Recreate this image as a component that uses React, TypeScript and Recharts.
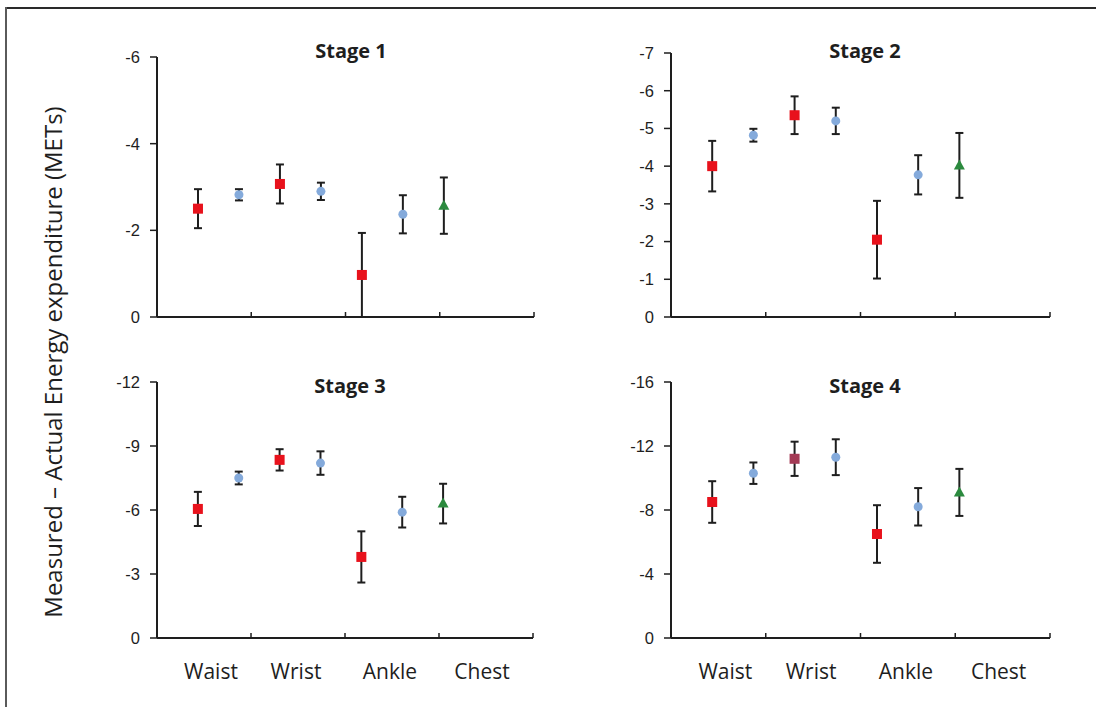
import React from 'react';
import { ScatterChart, Scatter, XAxis, YAxis, ErrorBar } from 'recharts';

const categories = ['Waist', 'Wrist', 'Ankle', 'Chest'];
const stageTitles = ['Stage 1', 'Stage 2', 'Stage 3', 'Stage 4'];
const yLabel = 'Measured \u2013 Actual Energy expenditure (METs)';

// red squares and blue circles: Waist, Wrist, Ankle; green triangle: Chest
const stage1Red = [-2.5, -3.07, -0.97];
const stage1RedErr = [0.45, 0.45, 0.97];
const stage1Blue = [-2.82, -2.9, -2.37];
const stage1BlueErr = [0.13, 0.2, 0.44];
const stage1Green = [-2.57];
const stage1GreenErr = [0.65];
const stage1Ticks = [-6, -4, -2, 0];

const stage2Red = [-4.0, -5.35, -2.05];
const stage2RedErr = [0.67, 0.5, 1.03];
const stage2Blue = [-4.82, -5.2, -3.77];
const stage2BlueErr = [0.17, 0.35, 0.52];
const stage2Green = [-4.02];
const stage2GreenErr = [0.86];
const stage2Ticks = [-7, -6, -5, -4, -3, -2, -1, 0];

const stage3Red = [-6.05, -8.35, -3.8];
const stage3RedErr = [0.8, 0.5, 1.2];
const stage3Blue = [-7.5, -8.2, -5.9];
const stage3BlueErr = [0.3, 0.55, 0.72];
const stage3Green = [-6.3];
const stage3GreenErr = [0.93];
const stage3Ticks = [-12, -9, -6, -3, 0];

const stage4Red = [-8.5, -11.2, -6.5];
const stage4RedErr = [1.3, 1.07, 1.8];
const stage4Blue = [-10.3, -11.3, -8.2];
const stage4BlueErr = [0.67, 1.12, 1.17];
const stage4Green = [-9.1];
const stage4GreenErr = [1.47];
const stage4Ticks = [-16, -12, -8, -4, 0];

const RED = '#e8121c';
const BLUE = '#84aadb';
const GREEN = '#2b8a3e';
const INK = '#1e1e1e';

const X_MAX = categories.length * 2.3;
// tick at each category boundary and each category centre
const xTicks = Array.from({ length: categories.length * 2 + 1 }, (_, i) => i * 1.15);
// Excel nudged the labels a little off the centres
const labelShift = [7, -2, -2, -4];

const series = (vals: number[], errs: number[], start: number) =>
  vals.map((y, i) => ({ x: start + i * 2, y, err: errs[i] }));

const squareShape = (fill: string) => (p: any) => {
  const c = p.payload && p.payload.fill ? p.payload.fill : fill;
  return <rect x={p.cx - 5} y={p.cy - 5} width={10} height={10} fill={c} />;
};
const circleShape = (p: any) => <circle cx={p.cx} cy={p.cy} r={4.5} fill={BLUE} />;
const triangleShape = (p: any) => (
  <polygon
    points={`${p.cx},${p.cy - 6} ${p.cx + 5.5},${p.cy + 4} ${p.cx - 5.5},${p.cy + 4}`}
    fill={GREEN}
  />
);

const makeXTick = (showLabels: boolean) => (props: any) => {
  const { x, y, index } = props;
  if (index % 2 === 0) {
    return <line x1={x} x2={x} y1={y} y2={y - 5} stroke={INK} strokeWidth={1.5} />;
  }
  if (!showLabels) return <g />;
  const k = (index - 1) / 2;
  return (
    <text
      x={x + labelShift[k]}
      y={y + 41}
      textAnchor="middle"
      fill={INK}
      fontSize={21}
      fontFamily="'Open Sans', sans-serif"
    >
      {categories[k]}
    </text>
  );
};

interface PanelProps {
  left: number;
  top: number;
  height: number;
  marginTop: number;
  marginRight: number;
  bottom: number;
  showLabels: boolean;
  red: number[];
  redErr: number[];
  blue: number[];
  blueErr: number[];
  green: number[];
  greenErr: number[];
  ticks: number[];
  oddSquare?: number;
}

const Panel: React.FC<PanelProps> = (p) => {
  const redData = series(p.red, p.redErr, 1).map((d, i) =>
    i === p.oddSquare ? { ...d, fill: '#a33a55' } : d
  );
  const blueData = series(p.blue, p.blueErr, 2);
  const greenData = series(p.green, p.greenErr, 7);
  const yMin = p.ticks[0];
  return (
    <div style={{ position: 'absolute', left: p.left, top: p.top }}>
      <ScatterChart
        width={470}
        height={p.height}
        margin={{ top: p.marginTop, right: p.marginRight, left: 0, bottom: p.bottom }}
      >
        <XAxis
          type="number"
          dataKey="x"
          domain={[0, X_MAX]}
          ticks={xTicks}
          interval={0}
          height={30}
          tickSize={0}
          tickMargin={0}
          tickLine={false}
          axisLine={{ stroke: INK, strokeWidth: 2 }}
          tick={makeXTick(p.showLabels)}
          allowDataOverflow
        />
        <YAxis
          type="number"
          dataKey="y"
          domain={[yMin, 0]}
          ticks={p.ticks}
          interval={0}
          reversed
          width={77}
          tickSize={7}
          tickMargin={10}
          axisLine={{ stroke: INK, strokeWidth: 2 }}
          tickLine={{ stroke: INK, strokeWidth: 1.5 }}
          tick={{ fill: INK, fontSize: 16.5, fontFamily: "'Liberation Sans', Arial, sans-serif" }}
          allowDataOverflow
        />
        <Scatter data={redData} shape={squareShape(RED)} isAnimationActive={false}>
          <ErrorBar dataKey="err" direction="y" width={4} strokeWidth={2} stroke={INK} isAnimationActive={false} />
        </Scatter>
        <Scatter data={blueData} shape={circleShape} isAnimationActive={false}>
          <ErrorBar dataKey="err" direction="y" width={4} strokeWidth={2} stroke={INK} isAnimationActive={false} />
        </Scatter>
        <Scatter data={greenData} shape={triangleShape} isAnimationActive={false}>
          <ErrorBar dataKey="err" direction="y" width={4} strokeWidth={2} stroke={INK} isAnimationActive={false} />
        </Scatter>
      </ScatterChart>
    </div>
  );
};

const titleStyle = (cx: number, top: number): React.CSSProperties => ({
  position: 'absolute',
  left: cx,
  top,
  transform: 'translateX(-50%)',
  fontFamily: "'Open Sans', sans-serif",
  fontWeight: 700,
  fontSize: 20,
  lineHeight: '20px',
  color: INK,
  whiteSpace: 'nowrap',
});

export default function App() {
  return (
    <div
      style={{
        position: 'absolute',
        left: 0,
        top: 0,
        width: 1096,
        height: 707,
        background: '#fff',
        overflow: 'hidden',
      }}
    >
      <div
        style={{
          position: 'absolute',
          left: 53,
          top: 362,
          transform: 'translate(-50%, -50%) rotate(-90deg)',
          fontFamily: "'Open Sans', sans-serif",
          fontSize: 24,
          lineHeight: '24px',
          color: INK,
          whiteSpace: 'nowrap',
        }}
      >
        {yLabel}
      </div>

      <Panel left={80} top={30} height={320} marginTop={27} marginRight={16} bottom={3} showLabels={false}
        red={stage1Red} redErr={stage1RedErr} blue={stage1Blue} blueErr={stage1BlueErr}
        green={stage1Green} greenErr={stage1GreenErr} ticks={stage1Ticks} />
      <Panel left={594} top={30} height={320} marginTop={23} marginRight={14} bottom={3} showLabels={false}
        red={stage2Red} redErr={stage2RedErr} blue={stage2Blue} blueErr={stage2BlueErr}
        green={stage2Green} greenErr={stage2GreenErr} ticks={stage2Ticks} />
      <Panel left={80} top={350} height={340} marginTop={32} marginRight={17} bottom={22} showLabels
        red={stage3Red} redErr={stage3RedErr} blue={stage3Blue} blueErr={stage3BlueErr}
        green={stage3Green} greenErr={stage3GreenErr} ticks={stage3Ticks} />
      <Panel left={594} top={350} height={340} marginTop={32} marginRight={14} bottom={22} showLabels
        red={stage4Red} redErr={stage4RedErr} blue={stage4Blue} blueErr={stage4BlueErr}
        green={stage4Green} greenErr={stage4GreenErr} ticks={stage4Ticks} oddSquare={1} />

      <div style={titleStyle(351, 41)}>{stageTitles[0]}</div>
      <div style={titleStyle(865, 41)}>{stageTitles[1]}</div>
      <div style={titleStyle(350, 376)}>{stageTitles[2]}</div>
      <div style={titleStyle(865, 376)}>{stageTitles[3]}</div>

      <svg
        width={1096}
        height={707}
        style={{ position: 'absolute', left: 0, top: 0, pointerEvents: 'none' }}
      >
        <line x1={5} y1={8} x2={1096} y2={8} stroke="#2a2a2a" strokeWidth={2} />
        <line x1={6} y1={7} x2={6} y2={707} stroke="#5a5a5a" strokeWidth={2} />
      </svg>
    </div>
  );
}
